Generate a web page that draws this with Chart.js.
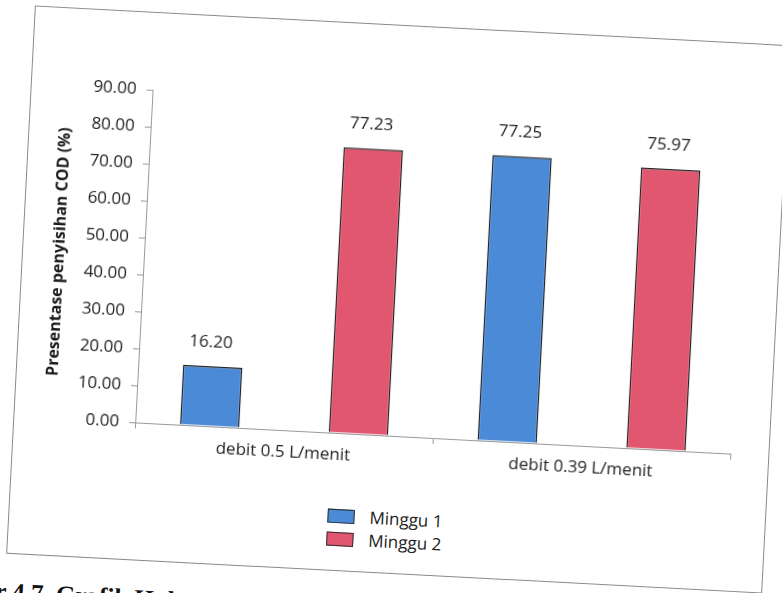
<!DOCTYPE html>
<html>
<head>
<meta charset="utf-8">
<script src="https://cdn.jsdelivr.net/npm/chart.js@4.4.0/dist/chart.umd.min.js"></script>
<style>
  html, body { margin: 0; padding: 0; background: #fff; overflow: hidden; width: 782px; height: 593px; }
  #page { position: absolute; left: 20px; top: 25px; width: 757px; height: 549px; transform: rotate(3deg); transform-origin: 50% 50%; }
  #frame { position: absolute; left: 0; top: 0; width: 755px; height: 547px; border: 1px solid #8a8a8a; background: #fff; }
  #box { position: absolute; left: 0; top: 0; width: 755px; height: 470px; }
  #legend { position: absolute; left: 318px; top: 481px; font: 17px "Open Sans", sans-serif; color: #222; }
  #legend div { display: flex; align-items: center; height: 23px; }
  #legend span.sw { display: inline-block; width: 25px; height: 12px; border: 1px solid #333; margin-right: 15px; }
  #caption { position: absolute; left: -88px; top: 573px; white-space: nowrap; font: bold 25px "Liberation Serif", serif; color: #111; }
</style>
</head>
<body>
<div id="page">
  <div id="frame">
    <div id="box"><canvas id="codChart"></canvas></div>
    <div id="legend"></div>
  </div>
  <div id="caption">Gambar 4.7. Grafik Hubungan Debit</div>
</div>
<script>
// data penyisihan COD per debit
const categories = ['debit 0.5 L/menit', 'debit 0.39 L/menit']
const minggu1 = [16.20, 77.25]
const minggu2 = [77.23, 75.97]
const yTicks = [0, 10, 20, 30, 40, 50, 60, 70, 80, 90]

const FONT = '"Open Sans", sans-serif'
const TEXT = '#222'

// label nilai di atas tiap batang
const valueLabels = {
  id: 'valueLabels',
  afterDatasetsDraw(chart) {
    const ctx = chart.ctx
    ctx.save()
    ctx.font = '17px ' + FONT
    ctx.fillStyle = TEXT
    ctx.textAlign = 'center'
    ctx.textBaseline = 'middle'
    chart.data.datasets.forEach((ds, i) => {
      chart.getDatasetMeta(i).data.forEach((bar, j) => {
        ctx.fillText(ds.data[j].toFixed(2), bar.x - 3, bar.y - 24)
      })
    })
    ctx.restore()
  },
}

const ctx = document.getElementById('codChart').getContext('2d')

const chart = new Chart(ctx, {
  type: 'bar',
  data: {
    labels: categories,
    datasets: [
      {
        label: 'Minggu 1',
        data: minggu1,
        backgroundColor: '#4b8ad6',
        borderColor: '#222',
        borderWidth: 1.5,
      },
      {
        label: 'Minggu 2',
        data: minggu2,
        backgroundColor: '#e0576f',
        borderColor: '#222',
        borderWidth: 1.5,
      },
    ],
  },
  options: {
    responsive: true,
    maintainAspectRatio: false,
    animation: false,
    datasets: {
      bar: { categoryPercentage: 1.0, barPercentage: 0.4 },
    },
    layout: { padding: { top: 77, right: 38, left: 23, bottom: 0 } },
    scales: {
      x: {
        offset: true,
        grid: { display: true, drawOnChartArea: false, tickLength: 6, color: '#999' },
        border: { color: '#999' },
        ticks: { color: TEXT, font: { family: FONT, size: 17 }, padding: 6 },
        afterFit(scale) { scale.height = 60 },
      },
      y: {
        min: 0,
        max: 90,
        afterBuildTicks(scale) { scale.ticks = yTicks.map((v) => ({ value: v })) },
        grid: { display: true, drawOnChartArea: false, tickLength: 6, color: '#999' },
        border: { color: '#999' },
        ticks: {
          color: TEXT,
          font: { family: FONT, size: 17 },
          padding: 10,
          callback: (v) => Number(v).toFixed(2),
        },
        title: {
          display: true,
          text: 'Presentase penyisihan COD (%)',
          color: '#1a1a1a',
          font: { family: FONT, size: 16, weight: 'bold' },
          padding: 4,
        },
        afterFit(scale) { scale.width = 98 },
      },
    },
    plugins: {
      legend: { display: false },
      tooltip: { enabled: false },
    },
  },
  plugins: [valueLabels],
})

// legenda disusun vertikal di bawah grafik
const legendEl = document.getElementById('legend')
chart.data.datasets.forEach((ds) => {
  const row = document.createElement('div')
  const sw = document.createElement('span')
  sw.className = 'sw'
  sw.style.background = ds.backgroundColor
  row.appendChild(sw)
  row.appendChild(document.createTextNode(ds.label))
  legendEl.appendChild(row)
})
</script>
</body>
</html>
